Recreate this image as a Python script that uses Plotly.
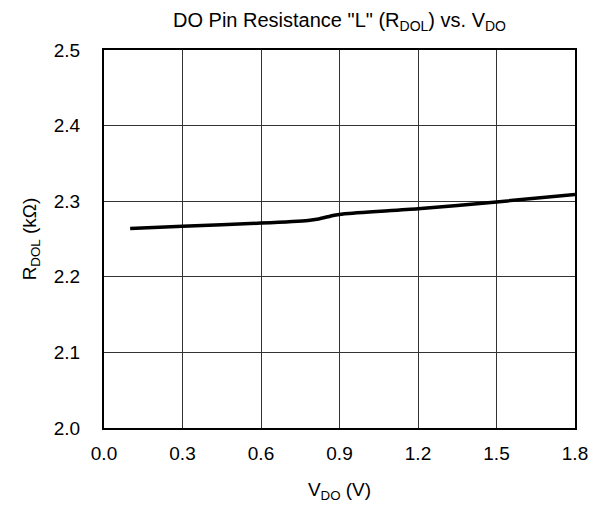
import plotly.graph_objects as go

vdo = [0.1, 0.3, 0.6, 0.78, 0.82, 0.88, 0.92, 1.2, 1.5, 1.8]
rdol = [2.264, 2.267, 2.271, 2.2745, 2.2765, 2.2815, 2.2835, 2.290, 2.299, 2.309]

x_ticks = [0.0, 0.3, 0.6, 0.9, 1.2, 1.5, 1.8]
y_ticks = [2.0, 2.1, 2.2, 2.3, 2.4, 2.5]

fig = go.Figure()
fig.add_trace(go.Scatter(x=vdo, y=rdol, mode="lines",
                         line=dict(color="black", width=3.5, shape="spline", smoothing=0.6),
                         showlegend=False))

font = "Liberation Sans, Arial, sans-serif"
fig.update_layout(
    width=600, height=512,
    margin=dict(l=104, r=25, t=50, b=84),
    paper_bgcolor="white", plot_bgcolor="white",
    font=dict(family=font, color="black"),
    title=dict(text='DO Pin Resistance "L" (R<sub>DOL</sub>) vs. V<sub>DO</sub>',
               xref="paper", x=0.5, xanchor="center", y=1 - 20 / 512, yanchor="middle",
               font=dict(size=20, family=font, color="black")),
    xaxis=dict(range=[0, 1.8], tickvals=x_ticks, ticktext=[f"{v:.1f}" for v in x_ticks],
               showgrid=True, gridcolor="#333333", gridwidth=1,
               showline=True, linecolor="black", linewidth=2, mirror=True,
               ticks="", zeroline=False, tickfont=dict(size=19), ticklabelstandoff=7,
               title=dict(text="V<sub>DO</sub> (V)", font=dict(size=19), standoff=20)),
    yaxis=dict(range=[2.0, 2.5], tickvals=y_ticks, ticktext=[f"{v:.1f}" for v in y_ticks],
               showgrid=True, gridcolor="#333333", gridwidth=1,
               showline=True, linecolor="black", linewidth=2, mirror=True,
               ticks="", zeroline=False, tickfont=dict(size=19), ticklabelstandoff=18,
               title=dict(text="R<sub>DOL</sub> (kΩ)", font=dict(size=19), standoff=12)),
)

fig.write_html("out.html")
